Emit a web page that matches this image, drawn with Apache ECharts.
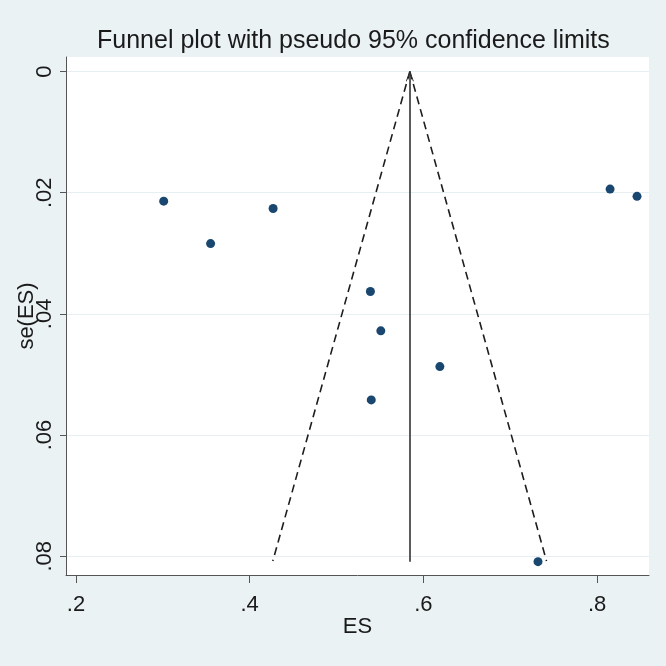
<!DOCTYPE html>
<html>
<head>
<meta charset="utf-8">
<script src="https://cdn.jsdelivr.net/npm/echarts@6/dist/echarts.min.js"></script>
<style>
  html, body { margin: 0; padding: 0; background: #eaf2f3; }
  #funnel { width: 666px; height: 666px; }
</style>
</head>
<body>
<div id="funnel"></div>
<script>
// study estimates
const es = [0.301, 0.427, 0.355, 0.539, 0.551, 0.619, 0.540, 0.815, 0.846, 0.732]
const se = [0.0214, 0.0226, 0.0284, 0.0363, 0.0428, 0.0487, 0.0542, 0.0194, 0.0206, 0.0809]

// pooled estimate and the pseudo 95% limits at the bottom of the funnel
const pooledES = 0.5844
const funnelSe = [0, 0.0808]
const funnelLeft = [0.5844, 0.4266]
const funnelRight = [0.5844, 0.7418]

const xTicks = [0.2, 0.4, 0.6, 0.8]
const xTickLabels = ['.2', '.4', '.6', '.8']
const yTicks = [0, 0.02, 0.04, 0.06, 0.08]
const yTickLabels = ['0', '.02', '.04', '.06', '.08']

const font = 'Liberation Sans, Arial, sans-serif'
const ink = '#1a1a1a'
const arrowPath = 'path://M5,-12 M0,12 L5,0 L10,12 L9,12.6 L5,2.4 L1,12.6 Z'

const label = (ticks, labels) => (v) => {
  const i = ticks.findIndex((t) => Math.abs(t - v) < 1e-9)
  return i < 0 ? '' : labels[i]
}

echarts.init(document.getElementById('funnel')).setOption({
  backgroundColor: '#eaf2f3',
  animation: false,
  title: {
    text: 'Funnel plot with pseudo 95% confidence limits',
    left: 97,
    top: 29,
    padding: 0,
    textStyle: { fontFamily: font, fontSize: 25, fontWeight: 'normal', color: ink },
  },
  grid: {
    left: 66, right: 17, top: 57, bottom: 91,
    outerBoundsMode: 'none',
    show: true, backgroundColor: '#fff', borderWidth: 0,
  },
  xAxis: {
    type: 'value',
    min: 0.1885, max: 0.8598,
    name: 'ES', nameLocation: 'middle', nameGap: 41, nameMoveOverlap: false,
    nameTextStyle: { fontFamily: font, fontSize: 22, color: ink },
    axisLine: { onZero: false, lineStyle: { color: '#555', width: 1 } },
    axisTick: { customValues: xTicks, length: 8, lineStyle: { color: '#555' } },
    axisLabel: {
      customValues: xTicks, formatter: label(xTicks, xTickLabels),
      margin: 19, fontFamily: font, fontSize: 22, color: ink,
    },
    splitLine: { show: false },
  },
  yAxis: {
    type: 'value',
    inverse: true,
    min: -0.0024, max: 0.0831,
    name: 'se(ES)', nameLocation: 'middle', nameGap: 28, nameMoveOverlap: false,
    nameTextStyle: { fontFamily: font, fontSize: 22, color: ink },
    axisLine: { show: true, onZero: false, lineStyle: { color: '#555', width: 1 } },
    axisTick: { show: true, customValues: yTicks, length: 6, lineStyle: { color: '#555' } },
    axisLabel: {
      customValues: yTicks, formatter: label(yTicks, yTickLabels), rotate: 90,
      margin: 10, fontFamily: font, fontSize: 22, color: ink,
    },
    splitLine: { show: true, lineStyle: { color: '#e6eff1', width: 1 } },
  },
  series: [
    {
      type: 'line',
      data: [[funnelLeft[0], funnelSe[0]], [funnelLeft[1], funnelSe[1]]],
      symbol: 'none',
      lineStyle: { color: '#1e1e1e', width: 1.6, type: [8, 5] },
      z: 3,
    },
    {
      type: 'line',
      data: [[funnelRight[0], funnelSe[0]], [funnelRight[1], funnelSe[1]]],
      symbol: 'none',
      lineStyle: { color: '#1e1e1e', width: 1.6, type: [8, 5] },
      z: 3,
    },
    {
      type: 'scatter',
      data: es.map((x, i) => [x, se[i]]),
      symbol: 'circle',
      symbolSize: 9,
      itemStyle: { color: '#1a476f', opacity: 1 },
      z: 5,
      markLine: {
        silent: true,
        symbol: ['none', arrowPath],
        symbolSize: [8, 20],
        label: { show: false },
        lineStyle: { color: '#333', width: 1.6, type: 'solid' },
        data: [[{ coord: [pooledES, se[9]] }, { coord: [pooledES, 0] }]],
      },
    },
  ],
})
</script>
</body>
</html>
